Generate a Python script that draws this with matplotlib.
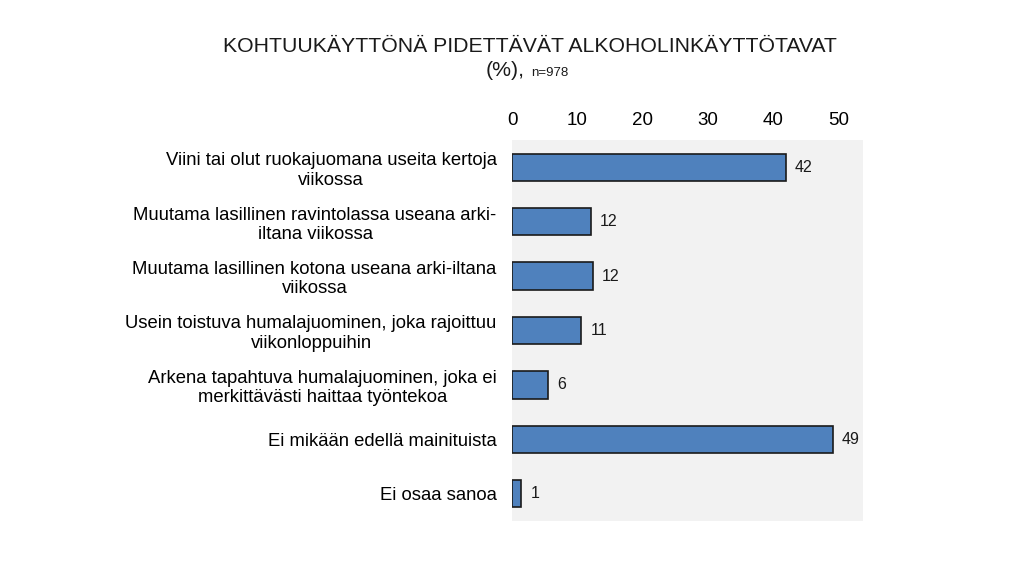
import numpy as np
import matplotlib.pyplot as plt

plt.rcParams['font.family'] = ['Liberation Sans', 'DejaVu Sans']

# Data
categories = [
    'Viini tai olut ruokajuomana useita kertoja\nviikossa',
    'Muutama lasillinen ravintolassa useana arki-\niltana viikossa',
    'Muutama lasillinen kotona useana arki-iltana\nviikossa',
    'Usein toistuva humalajuominen, joka rajoittuu\nviikonloppuihin',
    'Arkena tapahtuva humalajuominen, joka ei\nmerkittävästi haittaa työntekoa',
    'Ei mikään edellä mainituista',
    'Ei osaa sanoa',
]
values = [41.9, 12.1, 12.4, 10.6, 5.5, 49.1, 1.4]
value_labels = ['42', '12', '12', '11', '6', '49', '1']
xticks = [0, 10, 20, 30, 40, 50]

fig = plt.figure(figsize=(10.24, 5.76), dpi=100)
ax = fig.add_axes([0.5, 0.0955, 0.343, 0.6615])
ax.set_facecolor('#F2F2F2')

y = np.arange(len(categories))
ax.barh(y, values, height=0.5, color='#4F81BD', edgecolor='#1a1a1a', linewidth=1.2)

for yi, v, lab in zip(y, values, value_labels):
    ax.text(v + 1.4, yi, lab, va='center', ha='left', fontsize=11.5, color='#1a1a1a')

ax.set_xlim(0, 53.8)
ax.set_ylim(len(categories) - 0.5, -0.5)
ax.set_xticks(xticks)
ax.xaxis.tick_top()
ax.tick_params(axis='x', length=0, labelsize=13.5, pad=8)
ax.set_yticks(y)
ax.set_yticklabels(categories, fontsize=13.3, multialignment='center', linespacing=1.18)
ax.tick_params(axis='y', length=0, pad=11)
for s in ax.spines.values():
    s.set_visible(False)

fig.text(0.518, 0.92, 'KOHTUUKÄYTTÖNÄ PIDETTÄVÄT ALKOHOLINKÄYTTÖTAVAT',
         ha='center', va='center', fontsize=15.3, color='#1a1a1a')
fig.text(0.493, 0.877, '(%),', ha='center', va='center', fontsize=15.3, color='#1a1a1a')
fig.text(0.537, 0.874, 'n=978', ha='center', va='center', fontsize=9.5, color='#1a1a1a')

fig.savefig('out.png', dpi=100)
